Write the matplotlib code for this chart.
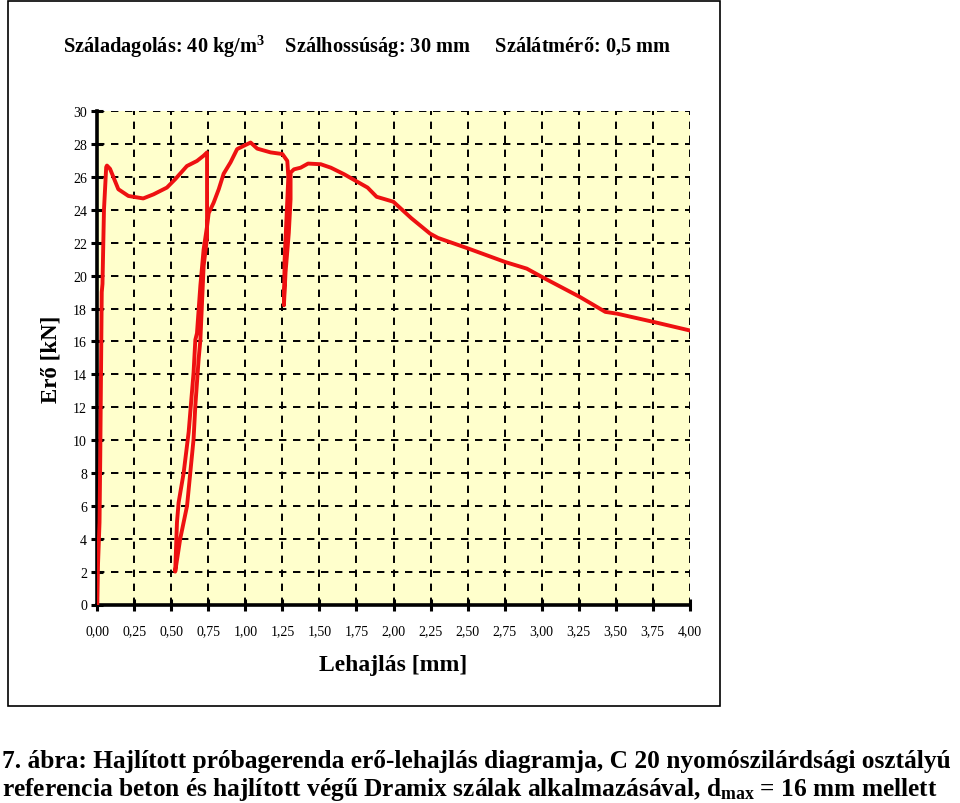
import matplotlib.pyplot as plt
from matplotlib.patches import Rectangle
from matplotlib.ticker import MultipleLocator, FuncFormatter

plt.rcParams['font.family'] = ['Liberation Serif', 'DejaVu Serif']
plt.rcParams['mathtext.fontset'] = 'custom'
plt.rcParams['mathtext.rm'] = 'Liberation Serif:bold'
plt.rcParams['mathtext.it'] = 'Liberation Serif:bold'
plt.rcParams['mathtext.bf'] = 'Liberation Serif:bold'

# erő-lehajlás görbe (leolvasott pontok)
lehajlas = [0.0, 0.005, 0.015, 0.02, 0.025, 0.03, 0.035, 0.045, 0.06, 0.065,
            0.086, 0.142, 0.21, 0.31, 0.38, 0.47, 0.526, 0.605, 0.673, 0.718, 0.741,
            0.741, 0.718, 0.696, 0.684, 0.662, 0.65, 0.606, 0.56, 0.526,
            0.532, 0.538, 0.549, 0.583, 0.617, 0.65, 0.662, 0.673, 0.696, 0.718, 0.741,
            0.752, 0.786, 0.82, 0.853, 0.9, 0.944, 0.989, 1.035, 1.08, 1.17, 1.25,
            1.283, 1.29, 1.265, 1.26, 1.271, 1.293, 1.305, 1.305, 1.328, 1.373, 1.423,
            1.509, 1.577, 1.667, 1.739, 1.825, 1.886, 1.999, 2.12, 2.247, 2.30, 2.506,
            2.755, 2.90, 3.003, 3.26, 3.43, 3.51, 3.76, 3.995]
ero = [0.0, 2.5, 5.0, 9.0, 14.0, 19.0, 19.5, 24.0, 26.6, 26.7,
       26.5, 25.26, 24.85, 24.7, 24.95, 25.36, 25.87, 26.67, 26.98, 27.3, 27.5,
       22.3, 20.6, 16.1, 14.9, 12.1, 10.06, 6.0, 4.0, 2.0,
       3.5, 5.0, 6.2, 8.0, 10.5, 14.1, 16.1, 16.5, 19.4, 21.6, 23.0,
       23.8, 24.45, 25.26, 26.2, 26.9, 27.7, 27.9, 28.1, 27.73, 27.5, 27.4,
       26.98, 26.0, 21.0, 18.2, 20.2, 22.6, 24.65, 26.27, 26.47, 26.57, 26.82,
       26.78, 26.57, 26.17, 25.8, 25.36, 24.8, 24.5, 23.5, 22.56, 22.3, 21.65,
       20.83, 20.43, 19.92, 18.7, 17.8, 17.69, 17.18, 16.68]

fig = plt.figure(figsize=(9.6, 8.04), dpi=100)
fig.patch.set_facecolor('white')

# keret a diagram körül
fig.patches.append(Rectangle((8 / 960, 1 - 707 / 804), 712 / 960, 705 / 804,
                             transform=fig.transFigure, fill=False,
                             edgecolor='black', linewidth=1.2))

ax = fig.add_axes([97.3 / 960, 1 - 605.5 / 804, 592.4 / 960, 493.2 / 804])
ax.set_facecolor('#FFFFCC')
ax.plot(lehajlas, ero, color='#EE1111', linewidth=2.8, solid_joinstyle='round', zorder=3)

ax.set_xlim(0, 4)
ax.set_ylim(0, 30)
ax.xaxis.set_major_locator(MultipleLocator(0.25))
ax.yaxis.set_major_locator(MultipleLocator(2))
ax.xaxis.set_major_formatter(FuncFormatter(lambda v, p: f'{v:.2f}'.replace('.', ',')))
ax.yaxis.set_major_formatter(FuncFormatter(lambda v, p: f'{v:.0f}'))

ax.grid(True, color='black', linewidth=1.4, linestyle=(0, (3.8, 3.4)))
for s in ['top', 'right']:
    ax.spines[s].set_visible(False)
for s in ['left', 'bottom']:
    ax.spines[s].set_linewidth(2.6)
ax.tick_params(direction='inout', length=9, width=2.2, labelsize=10)
ax.tick_params(axis='x', pad=10)
ax.tick_params(axis='y', pad=3)

ax.set_xlabel('Lehajlás [mm]', fontsize=17, fontweight='bold', labelpad=12)
ax.set_ylabel('Erő [kN]', fontsize=16.5, fontweight='bold', labelpad=8)

fig.text(367 / 960, 1 - 47 / 804,
         'Száladagolás: 40 kg/m$^{3}$    Szálhossúság: 30 mm     Szálátmérő: 0,5 mm',
         ha='center', va='center', fontsize=14.7, fontweight='bold')

fig.text(2 / 960, 1 - 762 / 804,
         '7. ábra: Hajlított próbagerenda erő-lehajlás diagramja, C 20 nyomószilárdsági osztályú',
         ha='left', va='center', fontsize=18.3, fontweight='bold')
fig.text(2 / 960, 1 - 790 / 804,
         'referencia beton és hajlított végű Dramix szálak alkalmazásával, d$_{\\mathrm{max}}$ = 16 mm mellett',
         ha='left', va='center', fontsize=18.3, fontweight='bold')

fig.savefig('out.png', dpi=100)
